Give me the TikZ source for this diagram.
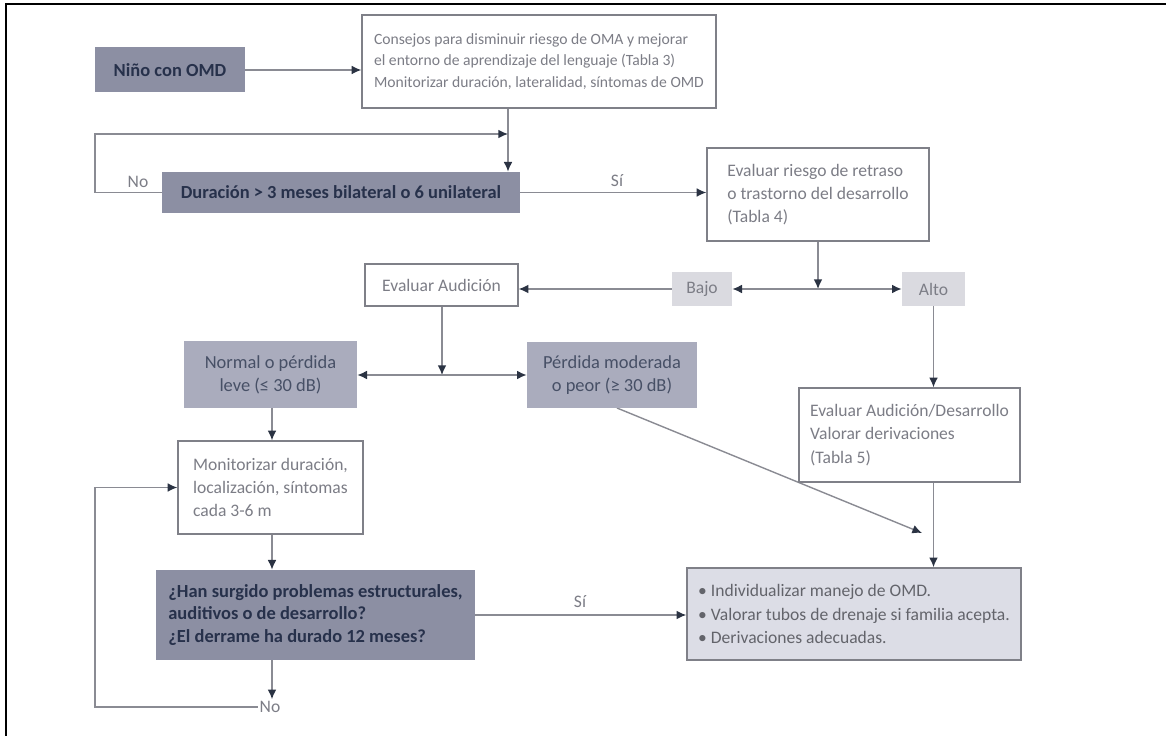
\documentclass[tikz,border=0pt]{standalone}
\usepackage{fontspec}
\setmainfont{Carlito}
\usepackage{tikz}
\usetikzlibrary{arrows.meta}
\pgfdeclarelayer{edgelayer}
\pgfdeclarelayer{nodelayer}
\pgfsetlayers{edgelayer,nodelayer,main}
\definecolor{darkfill}{HTML}{8C8FA3}
\definecolor{midfill}{HTML}{AAACBD}
\definecolor{lightfill}{HTML}{DADAE0}
\definecolor{resfill}{HTML}{DCDDE6}
\definecolor{darktext}{HTML}{27314B}
\definecolor{greytext}{HTML}{7C7D86}
\definecolor{boxline}{HTML}{7F8088}
\definecolor{edgecol}{HTML}{8A8B93}
\definecolor{tipcol}{HTML}{2B3343}
\tikzstyle{basebox}=[rectangle, font=\fontsize{10}{13.3}\selectfont, inner sep=0pt]
\tikzstyle{plain}=[basebox, draw=boxline, fill=white, text=greytext, line width=0.8pt, align=left]
\tikzstyle{dark}=[basebox, fill=darkfill, text=darktext, font=\fontsize{10.5}{13}\selectfont\bfseries]
\tikzstyle{mid}=[basebox, fill=midfill, text=darktext!85, font=\fontsize{10.5}{13}\selectfont, align=center]
\tikzstyle{light}=[basebox, fill=lightfill, text=greytext]
\tikzstyle{result}=[basebox, draw=boxline, fill=resfill, text=greytext!80!black, line width=0.9pt, align=left]
\tikzstyle{lbl}=[font=\fontsize{10}{12}\selectfont, text=greytext, inner sep=1pt]
\tikzstyle{arrow}=[draw=edgecol, line width=0.8pt, -{Latex[length=5.5pt,width=5pt,color=tipcol]}]

\begin{document}
\begin{tikzpicture}[x=0.02cm, y=-0.02cm]
            \useasboundingbox (0,0) rectangle (1166,736);
            \draw [line width=1.4pt] (6,736) -- (6,4) -- (1166,4);
            \begin{pgfonlayer}{nodelayer}
                \node [style=dark, minimum width=3cm, minimum height=0.9cm] (nino) at (170, 70) {Niño con OMD};
                \node [style=plain, font=\fontsize{8.9}{12}\selectfont, minimum width=7.08cm, minimum height=1.86cm] (consejos) at (539, 61.5) {Consejos para disminuir riesgo de OMA y mejorar\\el entorno de aprendizaje del lenguaje (Tabla 3)\\Monitorizar duración, lateralidad, síntomas de OMD};
                \node [style=dark, minimum width=7.16cm, minimum height=0.82cm] (duracion) at (341, 192.5) {Duración > 3 meses bilateral o 6 unilateral};
                \node [style=plain, minimum width=4.44cm, minimum height=1.86cm] (riesgo) at (818, 194.5) {Evaluar riesgo de retraso\\o trastorno del desarrollo\\(Tabla 4)};
                \node [style=light, minimum width=1.2cm, minimum height=0.68cm] (bajo) at (702, 289) {Bajo};
                \node [style=light, minimum width=1.26cm, minimum height=0.68cm] (alto) at (933.5, 289) {Alto};
                \node [style=plain, minimum width=3.06cm, minimum height=0.84cm] (audicion) at (441.5, 285) {Evaluar Audición};
                \node [style=mid, minimum width=3.46cm, minimum height=1.34cm] (normal) at (270.5, 374.5) {Normal o pérdida\\leve (≤ 30 dB)};
                \node [style=mid, minimum width=3.4cm, minimum height=1.32cm] (perdida) at (612, 375) {Pérdida moderada\\o peor (≥ 30 dB)};
                \node [style=plain, minimum width=4.42cm, minimum height=1.88cm] (audes) at (909.5, 435) {Evaluar Audición/Desarrollo\\Valorar derivaciones\\(Tabla 5)};
                \node [style=plain, minimum width=3.7cm, minimum height=1.86cm] (monit) at (270.5, 487.5) {Monitorizar duración,\\localización, síntomas\\cada 3-6 m};
                \node [style=dark, align=left, minimum width=6.38cm, minimum height=1.8cm] (surgido) at (315.5, 615) {¿Han surgido problemas estructurales,\\auditivos o de desarrollo?\\¿El derrame ha durado 12 meses?};
                \node [style=result, minimum width=6.68cm, minimum height=1.84cm] (manejo) at (854, 614) {\textbullet\ Individualizar manejo de OMD.\\\textbullet\ Valorar tubos de drenaje si familia acepta.\\\textbullet\ Derivaciones adecuadas.};
                \node [style=lbl, fill=white] (no2) at (270, 707) {No};
                \node [style=lbl] (no1) at (138, 182) {No};
                \node [style=lbl] (si1) at (617, 181) {Sí};
                \node [style=lbl] (si2) at (580, 602) {Sí};
            \end{pgfonlayer}
            \coordinate (j1) at (508, 134);
            \coordinate (l1) at (95, 134);
            \coordinate (j2) at (818, 289);
            \coordinate (j3) at (442, 375);
            \coordinate (p1) at (617, 408);
            \coordinate (t1) at (922, 533);
            \coordinate (l2) at (95, 487.5);
            \coordinate (v1) at (272, 0);
            \begin{pgfonlayer}{edgelayer}
                \draw [style=arrow] (nino) to (nino -| consejos.west);
                \draw [style=arrow] (consejos.south -| j1) to (duracion.north -| j1);
                \draw [style=arrow] (duracion.west) -| (l1) -- (j1);
                \draw [style=arrow] (duracion.east) to (duracion.east -| riesgo.west);
                \draw [style=arrow] (riesgo.south) to (j2);
                \draw [style=arrow] (j2) to (bajo.east);
                \draw [style=arrow] (j2) to (alto.west);
                \draw [style=arrow] (bajo.west) to (bajo.west -| audicion.east);
                \draw [style=arrow] (audicion.south -| j3) to (j3);
                \draw [style=arrow] (j3) to (j3 -| normal.east);
                \draw [style=arrow] (j3) to (j3 -| perdida.west);
                \draw [style=arrow] (alto.south) to (alto.south |- audes.north);
                \draw [style=arrow] (p1) to (t1);
                \draw [style=arrow] (audes.south -| alto) to (manejo.north -| alto);
                \draw [style=arrow] (normal.south -| v1) to (monit.north -| v1);
                \draw [style=arrow] (monit.south -| v1) to (surgido.north -| v1);
                \draw [style=arrow] (surgido.east) to (surgido.east -| manejo.west);
                \draw [style=arrow] (surgido.south -| v1) to (no2.north -| v1);
                \draw [style=arrow] (no2.west) -| (l2) -- (monit.west);
            \end{pgfonlayer}
        \end{tikzpicture}
\end{document}
